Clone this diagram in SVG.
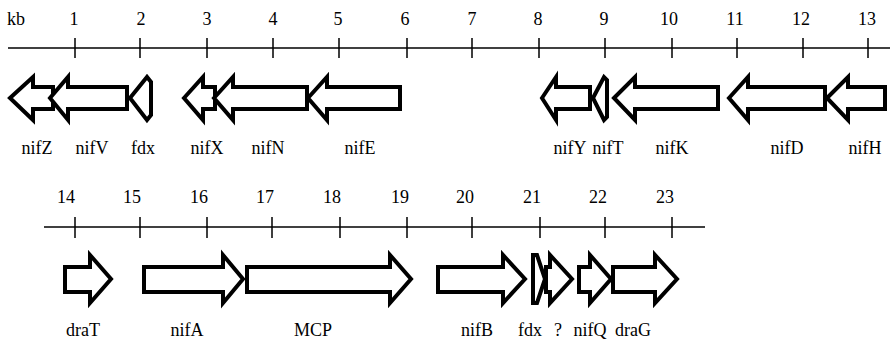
<svg xmlns="http://www.w3.org/2000/svg" width="890" height="343" viewBox="0 0 890 343" font-family="Liberation Serif, DejaVu Serif, serif">
<style>
text{font-family:'Liberation Serif','DejaVu Serif',serif;font-size:18px;fill:#000;text-anchor:middle}
.ax{stroke:#000;stroke-width:1.5;fill:none}
.g{fill:#fff;stroke:#000;stroke-width:4;stroke-linejoin:miter}
</style>
<rect width="890" height="343" fill="#fff"/>
<g id="axis-top">
<line class="ax" x1="8" y1="48" x2="890" y2="48"/>
<path class="ax" d="M75 38V58M140 38V58M207 38V58M273 38V58M339 38V58M407 38V58M472 38V58M539 38V58M605 38V58M672 38V58M737 38V58M803 38V58M868 38V58"/>
<text x="7" y="25" style="text-anchor:start">kb</text>
<text x="74" y="25">1</text><text x="141" y="25">2</text><text x="207" y="25">3</text><text x="273" y="25">4</text><text x="338" y="25">5</text><text x="405" y="25">6</text><text x="472" y="25">7</text><text x="538" y="25">8</text><text x="604" y="25">9</text><text x="669" y="25">10</text><text x="735" y="25">11</text><text x="801" y="25">12</text><text x="867" y="25">13</text>
</g>
<g id="axis-bottom">
<line class="ax" x1="44" y1="227" x2="705" y2="227"/>
<path class="ax" d="M75 217V238M140 217V238M207 217V238M272 217V238M340 217V238M407 217V238M472 217V238M540 217V238M605 217V238M672 217V238"/>
<text x="66" y="203">14</text><text x="132" y="203">15</text><text x="199" y="203">16</text><text x="265" y="203">17</text><text x="332" y="203">18</text><text x="400" y="203">19</text><text x="465" y="203">20</text><text x="532" y="203">21</text><text x="598" y="203">22</text><text x="665" y="203">23</text>
</g>
<g id="nifZ"><path class="g" d="M10 98L33 77V87H53V109H33V120Z"/><text x="37" y="154">nifZ</text></g>
<g id="nifV"><path class="g" d="M50 98L68 77V87H127V109H68V120Z"/><text x="92" y="154">nifV</text></g>
<g id="fdx1"><path class="g" d="M130 98L147 77L151 82V115L147 120Z"/><text x="143" y="154">fdx</text></g>
<g id="nifX"><path class="g" d="M184 98L203 77V87H215V109H203V120Z"/><text x="207" y="154">nifX</text></g>
<g id="nifN"><path class="g" d="M214 98L233 77V87H307V109H233V120Z"/><text x="268" y="154">nifN</text></g>
<g id="nifE"><path class="g" d="M308 98L327 77V87H400V109H327V120Z"/><text x="360" y="154">nifE</text></g>
<g id="nifY"><path class="g" d="M542 98L556 77V87H590V109H556V120Z"/><text x="570" y="154">nifY</text></g>
<g id="nifT"><path class="g" d="M593 98L604 77L607 80V117L604 120Z"/><text x="608" y="154">nifT</text></g>
<g id="nifK"><path class="g" d="M614 98L635 77V87H718V109H635V120Z"/><text x="672" y="154">nifK</text></g>
<g id="nifD"><path class="g" d="M729 98L748 77V87H825V109H748V120Z"/><text x="787" y="154">nifD</text></g>
<g id="nifH"><path class="g" d="M827 98L848 77V87H885V109H848V120Z"/><text x="865" y="154">nifH</text></g>
<g id="draT"><path class="g" d="M65 267H90V255L111 279L90 303V292H65Z"/><text x="83" y="336">draT</text></g>
<g id="nifA"><path class="g" d="M144 267H223V255L243 279L223 303V292H144Z"/><text x="187" y="336">nifA</text></g>
<g id="MCP"><path class="g" d="M247 267H390V255L411 279L390 303V292H247Z"/><text x="313" y="336">MCP</text></g>
<g id="nifB"><path class="g" d="M438 267H503V255L525 279L503 303V292H438Z"/><text x="477" y="336">nifB</text></g>
<g id="fdx2"><path class="g" d="M533 255L537 255L545 279L537 303L533 303Z"/><text x="530" y="336">fdx</text></g>
<g id="unknown"><path class="g" d="M546 267H550V255L572 279L550 303V292H546Z"/><text x="558" y="336">?</text></g>
<g id="nifQ"><path class="g" d="M579 267H590V255L611 279L590 303V292H579Z"/><text x="590" y="336">nifQ</text></g>
<g id="draG"><path class="g" d="M613 267H655V255L677 279L655 303V292H613Z"/><text x="633" y="336">draG</text></g>
</svg>
